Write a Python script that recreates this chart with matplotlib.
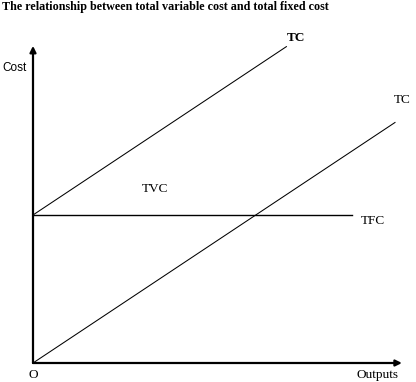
import matplotlib
matplotlib.use("Agg")
import matplotlib.pyplot as plt

# cost lines (outputs on x, cost on y)
tvc_x = [0, 10]
tvc_y = [0, 6.5]
tc_x = [0, 7]
tc_y = [4, 8.55]
tfc_x = [0, 8.8]
tfc_y = [4, 4]

plt.rcParams['font.family'] = ['Liberation Serif', 'DejaVu Serif']

fig = plt.figure(figsize=(4.16, 3.82), dpi=100)
ax = fig.add_axes([33/416, 19/382, 383/416, 363/382])
ax.set_xlim(0, 10.58)
ax.set_ylim(0, 9.81)
ax.axis('off')

ax.plot(tvc_x, tvc_y, color='black', lw=0.75)
ax.plot(tc_x, tc_y, color='black', lw=0.75)
ax.plot(tfc_x, tfc_y, color='black', lw=1.0)

# axes with arrows
arr = dict(arrowstyle='-|>', color='black', lw=1.6, mutation_scale=9, shrinkA=0, shrinkB=0)
ax.annotate('', xy=(0, 8.57), xytext=(0, 0), arrowprops=arr, annotation_clip=False)
ax.annotate('', xy=(10.19, 0), xytext=(0, 0), arrowprops=arr, annotation_clip=False)

ax.text(-0.5, 7.97, 'Cost', ha='center', va='center', fontsize=8.5, family='Liberation Sans')
ax.text(7.27, 8.78, 'TC', ha='center', va='center', fontsize=9.5, fontweight='bold')
ax.text(10.19, 7.11, 'TC', ha='center', va='center', fontsize=9.5)
ax.text(3.37, 4.70, 'TVC', ha='center', va='center', fontsize=9.5)
ax.text(9.39, 3.84, 'TFC', ha='center', va='center', fontsize=9.5)
ax.text(0, -0.32, 'O', ha='center', va='center', fontsize=9.5)
ax.text(9.53, -0.32, 'Outputs', ha='center', va='center', fontsize=9.5)

fig.text(2/416, 1 - 7/382, 'The relationship between total variable cost and total fixed cost',
         ha='left', va='center', fontsize=8.7, fontweight='bold')

fig.savefig('out.png', dpi=100)
